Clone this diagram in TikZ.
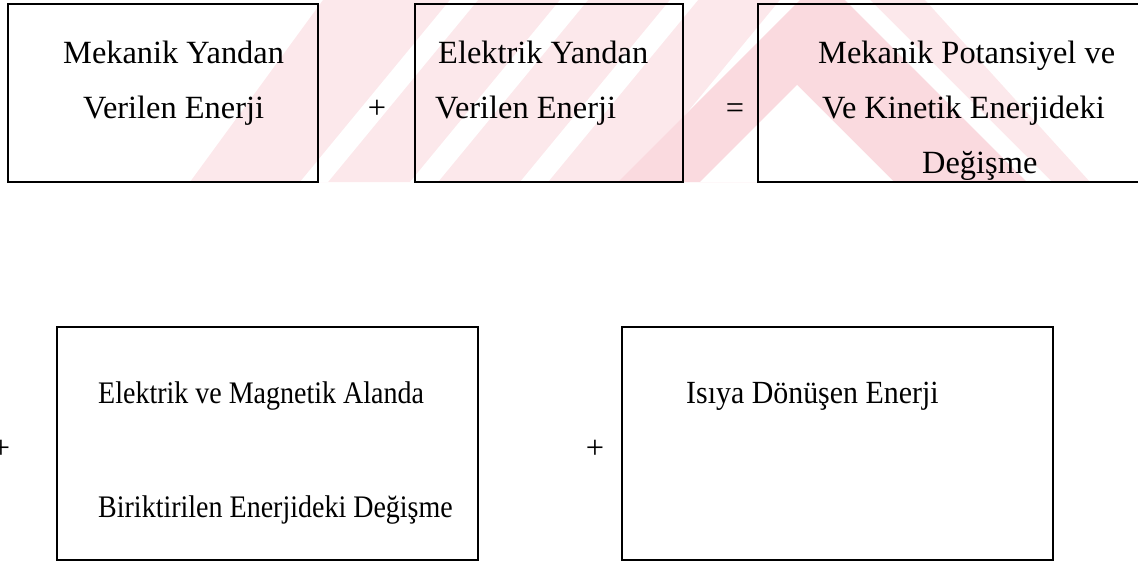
\documentclass[tikz,border=0pt]{standalone}
\usepackage{fontspec}
\setmainfont{Liberation Serif}
\definecolor{wmpink}{RGB}{252,232,235}
\definecolor{wmred}{RGB}{250,218,223}
\begin{document}
\begin{tikzpicture}[x=1pt,y=-1pt,
  frame/.style={draw=black, line width=2pt},
  txt/.style={anchor=base west, inner sep=0pt, font=\fontsize{32.4}{38}\selectfont},
  txtn/.style args={#1/#2}{anchor=base west, inner sep=0pt,
    font=\fontsize{#1}{38}\selectfont, yscale=#2},
  op/.style={anchor=base, inner sep=0pt, font=\fontsize{32.4}{38}\selectfont}]
\useasboundingbox (0,0) rectangle (1138,562);

% faint background emblem behind the upper row
\begin{scope}
  \clip (0,0) rectangle (1138,182);
  \fill[wmpink] (190,182) -- (323,0) -- (925,0) -- (1090,182) -- cycle;
  \begin{scope}
    \clip (0,0) -- (800,0) -- (618,182) -- (0,182) -- cycle;
    \foreach \b in {300,410,520,630}
      \fill[white] (\b,182) -- (\b+28,182) -- (\b+178,0) -- (\b+150,0) -- cycle;
  \end{scope}
  \fill[wmred] (618,182) -- (800,0) -- (845,0) -- (1027,182) -- cycle;
  \fill[white] (845,0) -- (870,0) -- (1052,182) -- (1027,182) -- cycle;
  \fill[white] (797,85) -- (700,182) -- (894,182) -- cycle;
\end{scope}

% upper row
\draw[frame] (8,4) rectangle (318,182);
\draw[frame] (415,4) rectangle (683,182);
\draw[frame] (1150,4) -- (758,4) -- (758,182) -- (1150,182);
\node[txt] (t11) at (63,63) {Mekanik Yandan};
\node[txt] (t12) at (83,118) {Verilen Enerji};
\node[op] (p1) at (377,118) {+};
\node[txt] (t21) at (438,63) {Elektrik Yandan};
\node[txt] (t22) at (435,118) {Verilen Enerji};
\node[op] (eq) at (735,118) {=};
\node[txt] (t31) at (818,63) {Mekanik Potansiyel ve};
\node[txt] (t32) at (822,118) {Ve Kinetik Enerjideki};
\node[txt] (t33) at (922,173) {Değişme};

% lower row
\node[op] (p2) at (1,458) {+};
\draw[frame] (57,327) rectangle (478,560);
\node[txtn=28/1.12] (t41) at (98,403) {Elektrik ve Magnetik Alanda};
\node[txtn=28/1.12] (t42) at (98,517) {Biriktirilen Enerjideki Değişme};
\node[op] (p3) at (595,458) {+};
\draw[frame] (622,327) rectangle (1053,560);
\node[txtn=29.9/1.08] (t51) at (686,403) {Isıya Dönüşen Enerji};
\end{tikzpicture}
\end{document}
